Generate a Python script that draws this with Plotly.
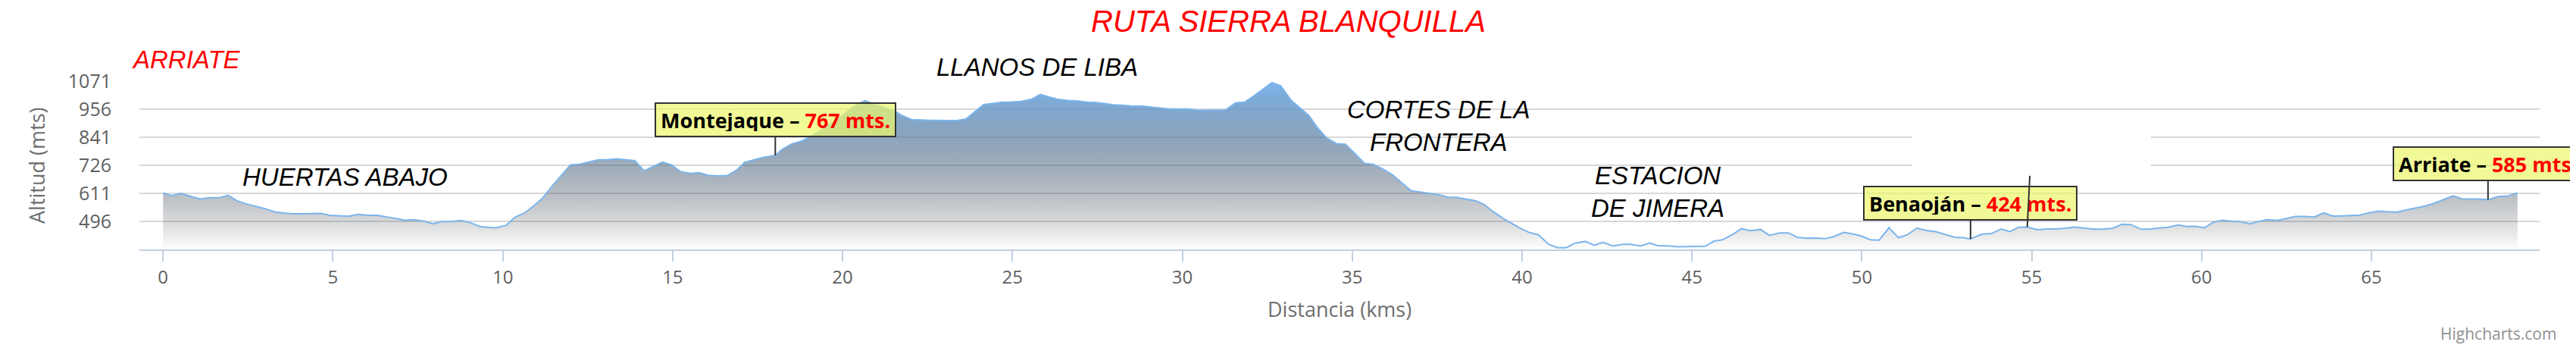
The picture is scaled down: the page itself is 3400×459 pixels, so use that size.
import plotly.graph_objects as go

# perfil de la ruta: distancia (km) y altitud (m)
km = [0.00, 0.26, 0.52, 0.79, 1.09, 1.35, 1.65, 1.91, 2.17, 2.44, 2.70, 2.96, 3.30, 3.56, 3.79,
      4.09, 4.39, 4.65, 4.91, 5.21, 5.47, 5.73, 6.03, 6.30, 6.56, 6.86, 7.12, 7.38, 7.65, 7.95,
      8.21, 8.47, 8.77, 9.03, 9.33, 9.52, 9.80, 10.10, 10.36, 10.62, 10.91, 11.17, 11.43, 11.69,
      11.99, 12.25, 12.55, 12.81, 13.07, 13.37, 13.63, 13.89, 14.16, 14.44, 14.70, 14.96, 15.22,
      15.52, 15.78, 16.04, 16.30, 16.60, 16.86, 17.12, 17.41, 17.67, 18.02, 18.23, 18.49, 18.79,
      19.05, 19.50, 20.00, 20.30, 20.65, 21.00, 21.30, 21.55, 21.73, 22.03, 22.47, 22.99, 23.37,
      23.63, 23.89, 24.15, 24.41, 24.70, 25.00, 25.26, 25.56, 25.82, 26.08, 26.34, 26.63, 26.93,
      27.19, 27.45, 27.71, 27.97, 28.23, 28.53, 28.79, 29.09, 29.35, 29.64, 29.93, 30.19, 30.45,
      30.75, 31.01, 31.27, 31.57, 31.83, 32.09, 32.38, 32.64, 32.90, 33.20, 33.46, 33.72, 33.98,
      34.24, 34.54, 34.80, 35.06, 35.36, 35.62, 35.91, 36.17, 36.44, 36.73, 36.99, 37.29, 37.55,
      37.81, 38.07, 38.33, 38.63, 38.89, 39.15, 39.44, 39.70, 39.96, 40.22, 40.48, 40.78, 41.04,
      41.30, 41.56, 41.86, 42.12, 42.38, 42.67, 42.97, 43.19, 43.49, 43.75, 44.01, 44.31, 44.57,
      44.83, 45.13, 45.39, 45.65, 45.91, 46.20, 46.46, 46.72, 47.02, 47.28, 47.58, 47.84, 48.10,
      48.36, 48.66, 48.92, 49.18, 49.47, 49.76, 49.98, 50.25, 50.51, 50.80, 51.08, 51.34, 51.62,
      51.90, 52.17, 52.43, 52.73, 52.99, 53.20, 53.52, 53.82, 54.10, 54.36, 54.61, 54.87, 55.17,
      55.44, 55.70, 56.00, 56.26, 56.53, 56.83, 57.09, 57.39, 57.65, 57.92, 58.22, 58.48, 58.74,
      59.01, 59.31, 59.57, 59.83, 60.09, 60.35, 60.61, 60.87, 61.13, 61.42, 61.68, 61.94, 62.24,
      62.50, 62.76, 63.06, 63.32, 63.59, 63.87, 64.13, 64.39, 64.65, 64.95, 65.21, 65.47, 65.76,
      66.02, 66.28, 66.58, 66.84, 67.14, 67.40, 67.66, 67.92, 68.21, 68.43, 68.73, 68.99, 69.30]
alt = [612, 601, 611, 599, 588, 593, 593, 603, 581, 568, 560, 550, 534, 530, 527,
       527, 528, 529, 521, 518, 517, 525, 521, 521, 516, 508, 501, 503, 498, 486,
       495, 495, 500, 491, 475, 472, 470, 480, 514, 529, 560, 591, 637, 679,
       728, 730, 741, 749, 749, 753, 749, 745, 703, 722, 739, 728, 701,
       693, 696, 685, 683, 684, 704, 738, 748, 759, 767, 792, 813, 825,
       844, 880, 930, 965, 991, 975, 960, 947, 932, 914, 911, 910, 910,
       916, 947, 975, 980, 985, 986, 988, 997, 1017, 1006, 997, 992, 990,
       985, 984, 980, 974, 973, 969, 970, 964, 961, 957, 957, 957, 952,
       952, 953, 953, 982, 985, 1009, 1040, 1066, 1052, 993, 962, 931, 880,
       839, 815, 813, 777, 734, 730, 710, 689, 658, 622, 617, 612, 606,
       596, 595, 588, 581, 565, 536, 508, 488, 467, 450, 441, 402, 388,
       388, 407, 414, 398, 410, 395, 402, 402, 395, 407, 396, 396, 392,
       393, 394, 394, 415, 421, 443, 466, 458, 463, 439, 449, 449, 431,
       427, 428, 425, 434, 451, 444, 436, 421, 419, 470, 429, 441, 469,
       459, 454, 443, 431, 429, 424, 443, 446, 465, 454, 472, 473, 462,
       465, 465, 468, 473, 469, 464, 464, 468, 484, 483, 464, 464, 469,
       472, 481, 475, 476, 470, 493, 501, 497, 495, 486, 496, 503, 500,
       508, 516, 516, 514, 531, 518, 519, 520, 522, 532, 538, 536, 534,
       543, 551, 559, 570, 586, 601, 589, 589, 588, 585, 598, 600, 612]

x_ticks = [0, 5, 10, 15, 20, 25, 30, 35, 40, 45, 50, 55, 60, 65]
y_ticks = [496, 611, 726, 841, 956, 1071]

stop_names = ["Montejaque", "Benaoján", "Arriate"]
stop_km = [18.02, 53.20, 68.43]
stop_alt = [767, 424, 585]

# etiqueta tapada (caja blanca) a la altura del km 55
blank_km = 54.87
blank_alt = 473

# la página tiene 8px de margen en body: se compensa en los márgenes
OFF = 8
W, H = 3400, 459
ML, MR, MT, MB = 184 - OFF, 48 + OFF, 107 - OFF, 130 + OFF
PW = W - ML - MR
PH = H - MT - MB


def px(X):
    return (X - OFF - ML) / PW


def py(Y):
    return (H - MB - (Y - OFF)) / PH


# degradado tipo Highcharts: azul arriba -> rgba(2,0,0,0) abajo
blue = (124, 181, 236)
grad = []
for i in range(11):
    f = i / 10
    g = 1 - f
    r = blue[0] * (1 - g) + 2 * g
    gg = blue[1] * (1 - g)
    b = blue[2] * (1 - g)
    grad.append([f, "rgba(%d,%d,%d,%.3f)" % (r, gg, b, 1 - g)])

fig = go.Figure()
fig.add_trace(go.Scatter(
    x=km, y=alt,
    mode="lines",
    line=dict(color="#7cb5ec", width=2),
    fill="tozeroy",
    fillgradient=dict(type="vertical", colorscale=grad, start=381, stop=max(alt)),
    hoverinfo="skip",
    showlegend=False,
))

LBL = "Open Sans"
ITAL = "Liberation Sans"

ann = []
for name, k, a in zip(stop_names, stop_km, stop_alt):
    ann.append(dict(
        x=k, y=a, xref="x", yref="y",
        text="<b>%s – <span style='color:#ff0000'>%d mts.</span></b>" % (name, a),
        showarrow=True, arrowhead=0, arrowwidth=2, arrowcolor="#333333",
        ax=0, ay=-47, standoff=0,
        font=dict(family=LBL, size=27, color="#000000"),
        bgcolor="rgba(236,247,110,0.72)", bordercolor="#333333", borderwidth=2,
        borderpad=6, height=30,
    ))

ann.append(dict(
    x=blank_km, y=blank_alt, xref="x", yref="y", text=" ",
    showarrow=True, arrowhead=0, arrowwidth=2, arrowcolor="#333333",
    ax=5, ay=-101, standoff=0,
    bgcolor="#ffffff", borderwidth=0, borderpad=0, width=316, height=67,
))

def txt(text, X, Y, size, color="#000000", xanchor="left", family=ITAL, italic=True, angle=0):
    t = "<i>%s</i>" % text if italic else text
    return dict(x=px(X), y=py(Y), xref="paper", yref="paper", text=t, showarrow=False,
                xanchor=xanchor, yanchor="middle", textangle=angle,
                font=dict(family=family, size=size, color=color))

ann += [
    txt("RUTA SIERRA BLANQUILLA", 1700, 28, 40, "#ff0000", "center"),
    txt("ARRIATE", 172, 78, 33, "#ff0000"),
    txt("HUERTAS ABAJO", 318, 233, 33),
    txt("LLANOS DE LIBA", 1234, 89, 33),
    txt("CORTES DE LA<br>FRONTERA", 1899, 166, 33, xanchor="center"),
    txt("ESTACION<br>DE JIMERA", 2188, 253, 33, xanchor="center"),
    txt("Distancia (kms)", 1768, 407, 27, "#6e6e6e", "center", LBL, False),
    txt("Altitud (mts)", 48, 219, 27, "#6e6e6e", "center", LBL, False, -90),
    txt("Highcharts.com", 3376, 440, 21, "#909090", "right", LBL, False),
]

fig.update_layout(
    width=W, height=H,
    margin=dict(l=ML, r=MR, t=MT, b=MB, pad=0, autoexpand=False),
    paper_bgcolor="#ffffff", plot_bgcolor="#ffffff",
    showlegend=False,
    annotations=ann,
)
fig.update_xaxes(
    range=[-0.696, 69.95], tickvals=x_ticks, ticktext=[str(v) for v in x_ticks],
    ticks="outside", ticklen=14, tickwidth=2, tickcolor="#c0d0e0",
    showline=True, linecolor="#c0d0e0", linewidth=2,
    showgrid=False, zeroline=False, automargin=False,
    tickfont=dict(family=LBL, size=24, color="#606060"),
)
fig.update_yaxes(
    range=[381, 1071.5], tickvals=y_ticks,
    showgrid=True, gridcolor="#d8d8d8", gridwidth=2,
    zeroline=False, showline=False, ticks="", ticklabelstandoff=36, automargin=False,
    tickfont=dict(family=LBL, size=25, color="#606060"),
)

fig.write_html("out.html")
